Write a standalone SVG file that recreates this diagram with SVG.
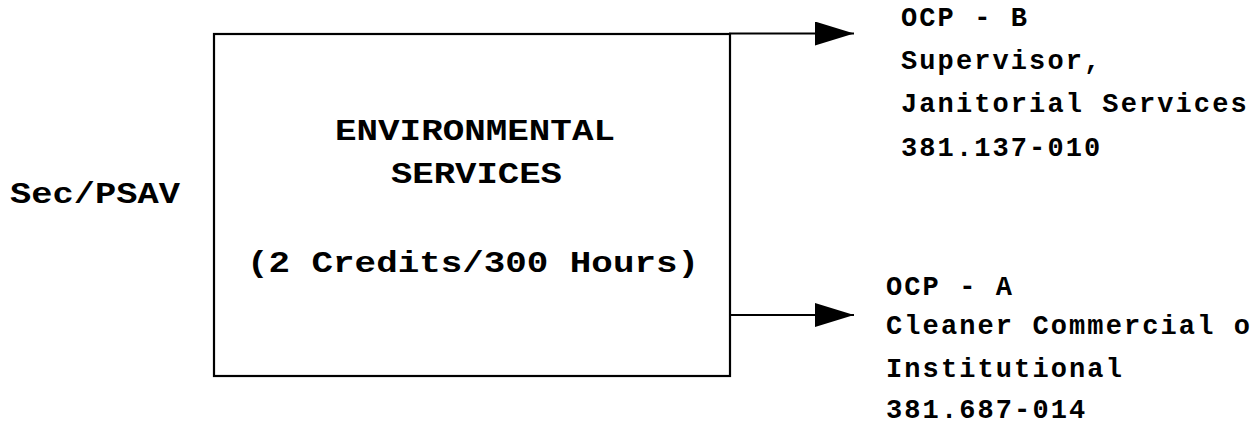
<svg xmlns="http://www.w3.org/2000/svg" width="1255" height="426" viewBox="0 0 1255 426">
  <style>
    .lbl { font-family: "Liberation Mono", "Courier New", monospace; font-weight: bold; fill: #000; }
    .big { font-size: 29px; }
    .small { font-size: 27px; letter-spacing: 2.1px; }
    .line { fill: none; stroke: #000; stroke-width: 2.2; }
  </style>
  <defs>
    <marker id="arrow" markerUnits="userSpaceOnUse" markerWidth="40" markerHeight="26" refX="39" refY="12" orient="auto">
      <path d="M0,0 L39,12 L0,24 Z" fill="#000"/>
    </marker>
  </defs>
  <rect width="1255" height="426" fill="#fff"/>

  <!-- program label -->
  <g id="program">
    <text class="lbl big" x="10" y="203" textLength="170" lengthAdjust="spacingAndGlyphs">Sec/PSAV</text>
  </g>

  <!-- course box -->
  <g id="course">
    <rect class="line" x="214" y="34" width="516" height="342"/>
    <text class="lbl big" x="335" y="140" textLength="280" lengthAdjust="spacingAndGlyphs">ENVIRONMENTAL</text>
    <text class="lbl big" x="391" y="183" textLength="171" lengthAdjust="spacingAndGlyphs">SERVICES</text>
    <text class="lbl big" x="473" y="272" text-anchor="middle" textLength="452" lengthAdjust="spacingAndGlyphs">(2 Credits/300 Hours)</text>
  </g>

  <!-- outcome B -->
  <g id="ocp-b">
    <text class="lbl small" x="901" y="26">OCP - B</text>
    <text class="lbl small" x="901" y="69">Supervisor,</text>
    <text class="lbl small" x="901" y="112">Janitorial Services</text>
    <text class="lbl small" x="901" y="156">381.137-010</text>
  </g>

  <!-- outcome A -->
  <g id="ocp-a">
    <text class="lbl small" x="886" y="295">OCP - A</text>
    <text class="lbl small" x="886" y="334">Cleaner Commercial o</text>
    <text class="lbl small" x="886" y="377">Institutional</text>
    <text class="lbl small" x="886" y="418">381.687-014</text>
  </g>

  <!-- connectors -->
  <g id="connectors">
    <line class="line" x1="729" y1="33.5" x2="854" y2="33.5" marker-end="url(#arrow)"/>
    <line class="line" x1="730" y1="315" x2="854" y2="315" marker-end="url(#arrow)"/>
  </g>
</svg>
